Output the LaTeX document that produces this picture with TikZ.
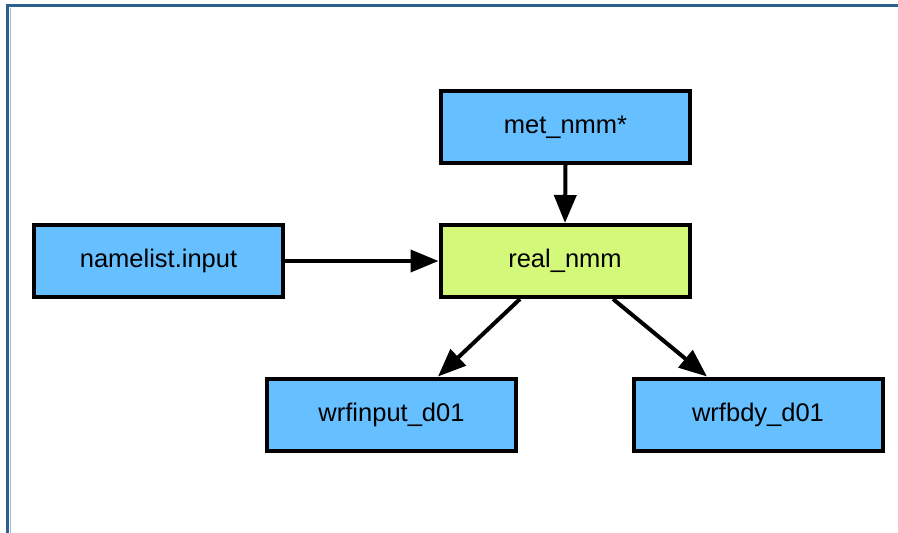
\documentclass[tikz,border=0pt]{standalone}
\usepackage{fontspec}
\setmainfont{Liberation Sans}
\usetikzlibrary{arrows.meta}
\definecolor{frameblue}{HTML}{2B5F8F}
\definecolor{fileblue}{HTML}{66BFFF}
\definecolor{progreen}{HTML}{D4F87A}
\tikzset{
  box/.style={draw=black, line width=4pt, minimum width=249pt, minimum height=72pt,
    inner sep=0pt, font=\fontsize{25.5}{30}\selectfont},
  filebox/.style={box, fill=fileblue},
  progbox/.style={box, fill=progreen},
  flow/.style={line width=4pt, -{Triangle[length=28pt,width=22pt]}}
}
\begin{document}
\begin{tikzpicture}[x=1pt, y=-1pt]
  \useasboundingbox (0,0) rectangle (898,533);
  \fill[white] (0,0) rectangle (898,533);
  % page frame
  \draw[frameblue, line width=3.5pt] (7.5,540) -- (7.5,5.5) -- (905,5.5);
  \draw[frameblue!45, line width=0.8pt] (10,540) -- (10,8);

  \node[filebox]  (met)   at (565.5,127)   {met\_nmm*};
  \node[progbox]  (real)  at (565,261)     {real\_nmm};
  \node[filebox]  (nml)   at (158.5,261)   {namelist.input};
  \node[filebox]  (winp)  at (391.5,414.5) {wrfinput\_d01};
  \node[filebox]  (wbdy)  at (758,414.5)   {wrfbdy\_d01};

  \draw[flow] (met.south) -- (real.north);
  \draw[flow] (nml.east) -- (real.west);
  \draw[flow] ([xshift=-45pt]real.south) -- ([xshift=46.5pt]winp.north);
  \draw[flow] ([xshift=48pt]real.south) -- ([xshift=-51pt]wbdy.north);
\end{tikzpicture}
\end{document}
